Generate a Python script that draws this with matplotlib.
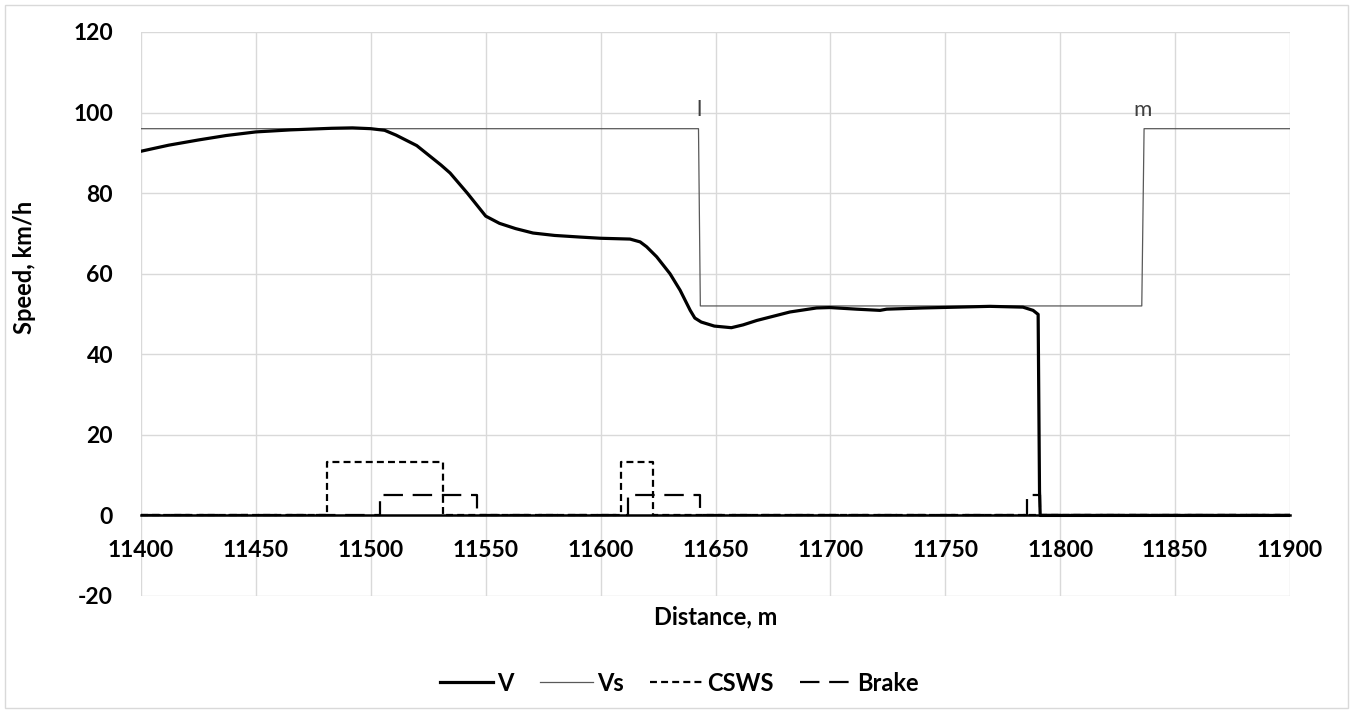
import matplotlib
matplotlib.use("Agg")
import matplotlib.pyplot as plt
from matplotlib.lines import Line2D
from matplotlib.patches import Rectangle

plt.rcParams["font.family"] = ["Lato", "DejaVu Sans"]
plt.rcParams["axes.unicode_minus"] = False
plt.rcParams["lines.scale_dashes"] = False

# Actual train speed V (km/h) along the track
dist_v = [11400, 11412, 11425, 11437, 11450, 11465, 11483, 11492, 11500, 11506,
          11511, 11520, 11530.5, 11534.5, 11542, 11550, 11556, 11563, 11570.6,
          11580, 11591, 11600, 11612.8, 11617.2, 11620, 11624.4, 11630.2, 11634.6,
          11639, 11641, 11643.8, 11649.5, 11656.9, 11662, 11668, 11682.4, 11694,
          11699.8, 11711.4, 11721.6, 11724.5, 11740.3, 11755, 11769.4, 11783.8,
          11788.2, 11790.4, 11791.0, 11791.3, 11900]
speed_v = [90.4, 91.9, 93.2, 94.3, 95.2, 95.7, 96.1, 96.2, 96.0, 95.6,
           94.4, 91.8, 87.0, 85.0, 80.0, 74.3, 72.5, 71.2, 70.1,
           69.5, 69.1, 68.8, 68.6, 67.9, 66.7, 64.2, 60.0, 55.9,
           50.9, 49.0, 48.0, 47.0, 46.6, 47.3, 48.4, 50.5, 51.5,
           51.6, 51.2, 50.9, 51.2, 51.5, 51.7, 51.9, 51.7,
           50.9, 49.9, 6.0, 0.0, 0.0]

# Speed restriction Vs (km/h)
dist_vs = [11400, 11642.6, 11643.4, 11835.5, 11836.5, 11900]
speed_vs = [96, 96, 52, 52, 96, 96]

# CSWS warning signal
dist_csws = [11400, 11481, 11481, 11531.4, 11531.4, 11609, 11609, 11622.8, 11622.8, 11900]
level_csws = [0, 0, 13.2, 13.2, 0, 0, 13.2, 13.2, 0, 0]

# Brake application
dist_brake = [11400, 11504, 11504, 11546.2, 11546.2, 11612, 11612, 11643.3, 11643.3,
              11785.5, 11785.5, 11791.2, 11791.2, 11900]
level_brake = [0, 0, 5, 5, 0, 0, 5, 5, 0, 0, 5, 5, 0, 0]

x_ticks = [11400, 11450, 11500, 11550, 11600, 11650, 11700, 11750, 11800, 11850, 11900]
y_ticks = [-20, 0, 20, 40, 60, 80, 100, 120]

point_labels = [("l", 11643.0, 96), ("m", 11836.0, 96)]

W, H = 1353, 713
fig = plt.figure(figsize=(W / 100, H / 100), dpi=100)
fig.patches.append(Rectangle((5 / W, 5 / H), 1343 / W, 703 / H, transform=fig.transFigure,
                             fill=False, edgecolor="#d9d9d9", linewidth=1.0))

ax = fig.add_axes([141 / W, (H - 596) / H, (1290 - 141) / W, (596 - 32) / H])

grid_c = "#d9d9d9"
ax.set_xlim(11400, 11900)
ax.set_ylim(-20, 120)
ax.set_xticks(x_ticks)
ax.set_yticks(y_ticks)
ax.grid(True, color=grid_c, linewidth=1.0)
ax.set_axisbelow(True)
for s in ax.spines.values():
    s.set_visible(False)
# horizontal axis line drawn at zero speed
ax.spines["bottom"].set_position(("data", 0))
ax.spines["bottom"].set_visible(True)
ax.spines["bottom"].set_color("black")
ax.spines["bottom"].set_linewidth(1.8)

ax.tick_params(axis="x", length=0, pad=18, labelsize=16.5)
ax.tick_params(axis="y", length=0, pad=20, labelsize=16.5)
for lab in ax.get_xticklabels() + ax.get_yticklabels():
    lab.set_fontweight("bold")

ax.plot(dist_csws, level_csws, color="black", linewidth=1.6, linestyle=(0, (5, 3)))
ax.plot(dist_brake, level_brake, color="black", linewidth=1.6, linestyle=(0, (14, 7)))
ax.plot(dist_vs, speed_vs, color="#595959", linewidth=0.9)
ax.plot(dist_v, speed_v, color="black", linewidth=2.3, solid_joinstyle="round")

for txt, x, y in point_labels:
    ax.annotate(txt, xy=(x, y), xytext=(0, 9), textcoords="offset points",
                ha="center", va="baseline", fontsize=16, color="#404040")

ax.set_xlabel("Distance, m", fontsize=17, fontweight="bold", va="center")
ax.xaxis.set_label_coords(0.5, -0.037)
ax.set_ylabel("Speed, km/h", fontsize=17, fontweight="bold", va="center")
ax.yaxis.set_label_coords(-0.101, 0.583)

handles = [
    Line2D([], [], color="black", linewidth=2.3),
    Line2D([], [], color="#595959", linewidth=0.9),
    Line2D([], [], color="black", linewidth=1.6, linestyle=(0, (5, 3))),
    Line2D([], [], color="black", linewidth=1.6, linestyle=(0, (14, 7))),
]
fig.legend(handles, ["V", "Vs", "CSWS", "Brake"], loc="center",
           bbox_to_anchor=(0.502, 0.042), ncol=4, frameon=False,
           prop={"size": 17, "weight": "bold"}, handlelength=2.25,
           handletextpad=0.18, columnspacing=1.1)

fig.savefig("out.png", dpi=100)
